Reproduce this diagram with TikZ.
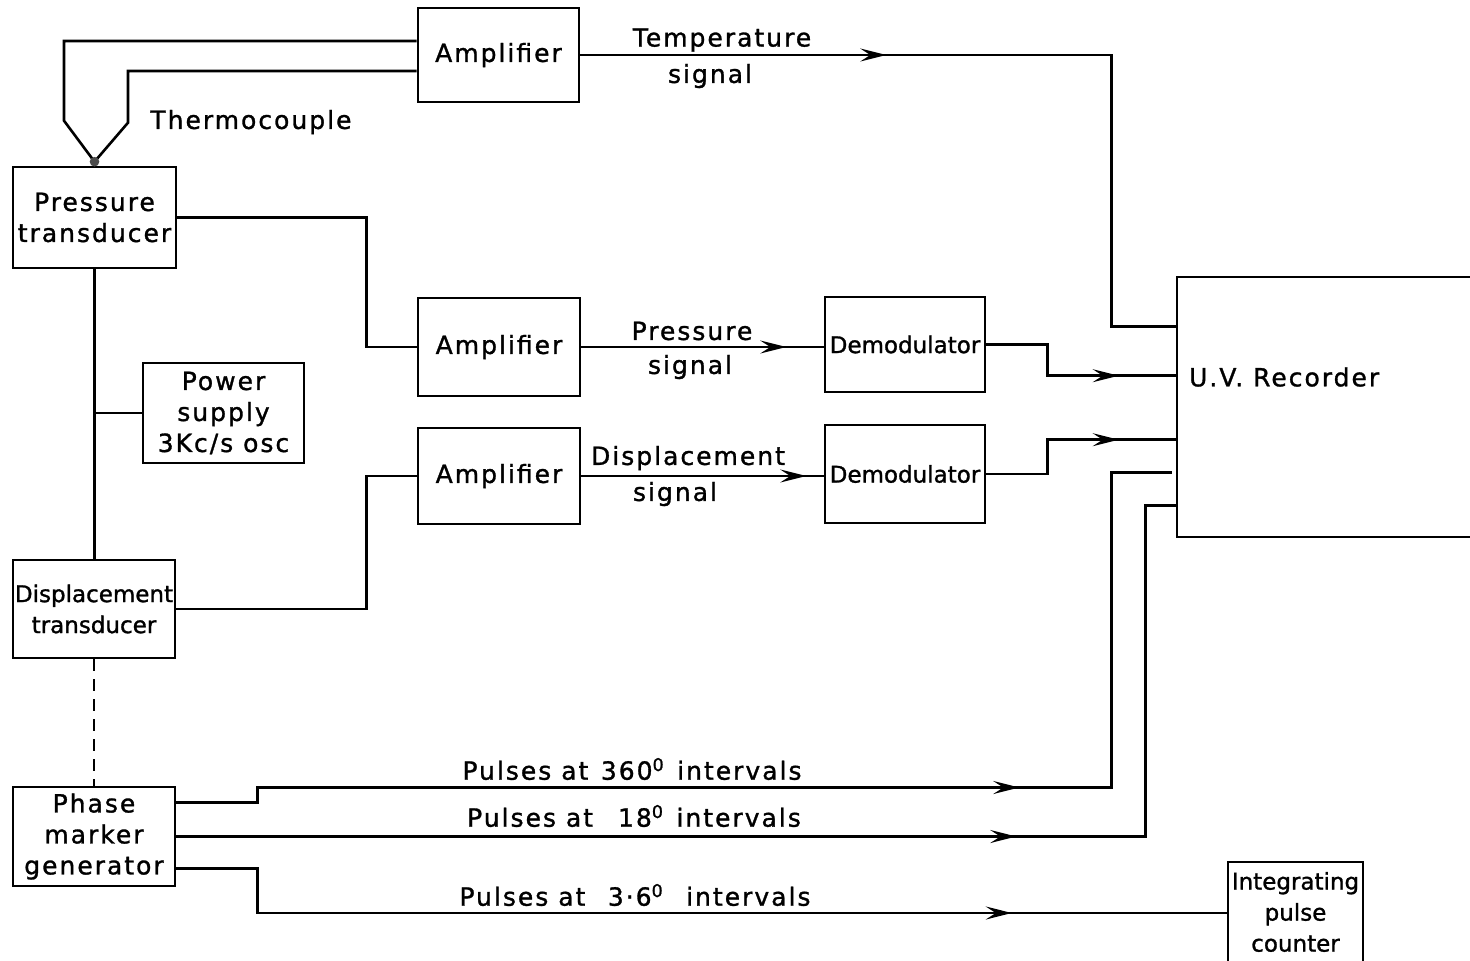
\documentclass[tikz,border=0pt]{standalone}
\usepackage{fontspec}
\setmainfont{DejaVu Sans}[LetterSpace=8,FakeBold=1.2]
\newfontfamily\narrowfont{DejaVu Sans}[FakeBold=1.2]
\usetikzlibrary{arrows.meta,decorations.markings}

\tikzset{
  blockbox/.style={draw, line width=1.3pt, inner sep=0pt, align=center,
    font=\fontsize{12.5}{15.5}\selectfont},
  narrowbox/.style={blockbox, font=\narrowfont\fontsize{11.5}{15.5}\selectfont},
  tagtext/.style={inner sep=0pt, align=center, font=\fontsize{12.5}{15.5}\selectfont},
  wire/.style={line width=1.3pt},
  arrowat/.style={postaction={decorate}, decoration={markings,
    mark=at position #1 with {\arrow{Stealth[length=13pt,width=6.5pt,inset=5pt]}}}}
}

\begin{document}
\begin{tikzpicture}[x=0.5pt, y=-0.5pt]
% Page of the scan, in pixels
\path[use as bounding box, fill=white] (0,0) rectangle (1470,960);
% Blocks
\node[blockbox, minimum width=80.5pt, minimum height=47pt] (amptemp) at (498.5,55) {Amplifier};
\node[blockbox, minimum width=81.5pt, minimum height=50.5pt] (presstr) at (94.5,217.5) {Pressure\\transducer};
\node[blockbox, minimum width=81pt, minimum height=49pt] (amppress) at (499,347) {Amplifier};
\node[narrowbox, minimum width=80pt, minimum height=47.5pt] (demodpress) at (905,344.5) {Demodulator};
\node[blockbox, minimum width=80.5pt, minimum height=50pt] (power) at (223.5,413) {Power\\supply\\3Kc/s osc};
\node[blockbox, minimum width=81pt, minimum height=48pt] (ampdisp) at (499,476) {Amplifier};
\node[narrowbox, minimum width=80pt, minimum height=49pt] (demoddisp) at (905,474) {Demodulator};
\node[narrowbox, minimum width=81pt, minimum height=49pt] (disptr) at (94,609) {Displacement\\transducer};
\node[blockbox, minimum width=81pt, minimum height=49.5pt] (phasegen) at (94,836.5) {Phase\\marker\\generator};
\node[blockbox, minimum width=156.5pt, minimum height=130pt] (uv) at (1333.5,407) {};
\node[tagtext, anchor=west] (uvtext) at ([xshift=6.5pt,yshift=15pt]uv.west) {U.V. Recorder};
\node[narrowbox, minimum width=67.5pt, minimum height=50pt] (counter) at (1295.5,912) {Integrating\\pulse\\counter};
% Labels
\node[tagtext, anchor=west] (tctext) at (150,122) {Thermocouple};
\node[tagtext] (temptext) at (722,40) {Temperature};
\node[tagtext] (tempsig) at (710,76) {signal};
\node[tagtext] (presstext) at (692,331) {Pressure};
\node[tagtext] (presssig) at (690,367) {signal};
\node[tagtext] (disptext) at (688,458) {Displacement};
\node[tagtext] (dispsig) at (675,494) {signal};
\node[tagtext] (pulsefull) at (632,769) {Pulses at\enspace 360\textsuperscript{0}\enspace intervals};
\node[tagtext] (pulsemid) at (634,816) {Pulses at\quad 18\textsuperscript{0}\enspace intervals};
\node[tagtext] (pulsefine) at (635,895) {Pulses at\enspace\ 3·6\textsuperscript{0}\enspace\ intervals};
% Thermocouple wires
\coordinate (tcjoint) at ([yshift=2pt]presstr.north);
\draw[wire] ([yshift=7pt]amptemp.west) -| ([xshift=-15.25pt,yshift=20.5pt]tcjoint) -- (tcjoint);
\draw[wire] ([yshift=-8pt]amptemp.west) -| ([xshift=16.75pt,yshift=19.5pt]tcjoint) -- (tcjoint);
\fill[black!70] (tcjoint) circle (2.4pt);
% Transducers and supply
\draw[wire] (presstr.south) -- (presstr.south |- disptr.north);
\draw[wire] (power.west) -- (power.west -| presstr.south);
\draw[wire, dashed, dash pattern=on 6pt off 4pt] (disptr.south) -- (disptr.south |- phasegen.north);
\draw[wire] (presstr.east) -| ([xshift=-25pt]amppress.west) -- (amppress.west);
\draw[wire] (disptr.east) -| ([xshift=-25pt]ampdisp.west) -- (ampdisp.west);
% Signals
\draw[wire, arrowat=153pt] (amptemp.east) -| ([xshift=-32pt,yshift=-25.5pt]uv.north west) -- ([yshift=-25.5pt]uv.north west);
\draw[wire, arrowat=102.5pt] (amppress.east) -- (amppress.east -| demodpress.west);
\draw[wire, arrowat=112.5pt] (ampdisp.east) -- (ampdisp.east -| demoddisp.west);
\draw[wire, arrowat=-28.5pt] (demodpress.east) -| ([xshift=-64pt,yshift=-50pt]uv.north west) -- ([yshift=-50pt]uv.north west);
\draw[wire, arrowat=-28.5pt] (demoddisp.east) -| ([xshift=-64pt,yshift=-82pt]uv.north west) -- ([yshift=-82pt]uv.north west);
% Phase marks
\draw[wire, arrowat=429pt] ([yshift=17pt]phasegen.east) -- ++(81,0) -- ++(0,-15)
  -| ([xshift=-32pt,yshift=-98.5pt]uv.north west) -- ([xshift=-2pt,yshift=-98.5pt]uv.north west);
\draw[wire, arrowat=420pt] (phasegen.east) -| ([xshift=-15pt,yshift=-115pt]uv.north west) -- ([yshift=-115pt]uv.north west);
\draw[wire, arrowat=440pt] ([yshift=-16pt]phasegen.east) -- ++(81,0) |- ([yshift=-0.5pt]counter.west);
\end{tikzpicture}
\end{document}
